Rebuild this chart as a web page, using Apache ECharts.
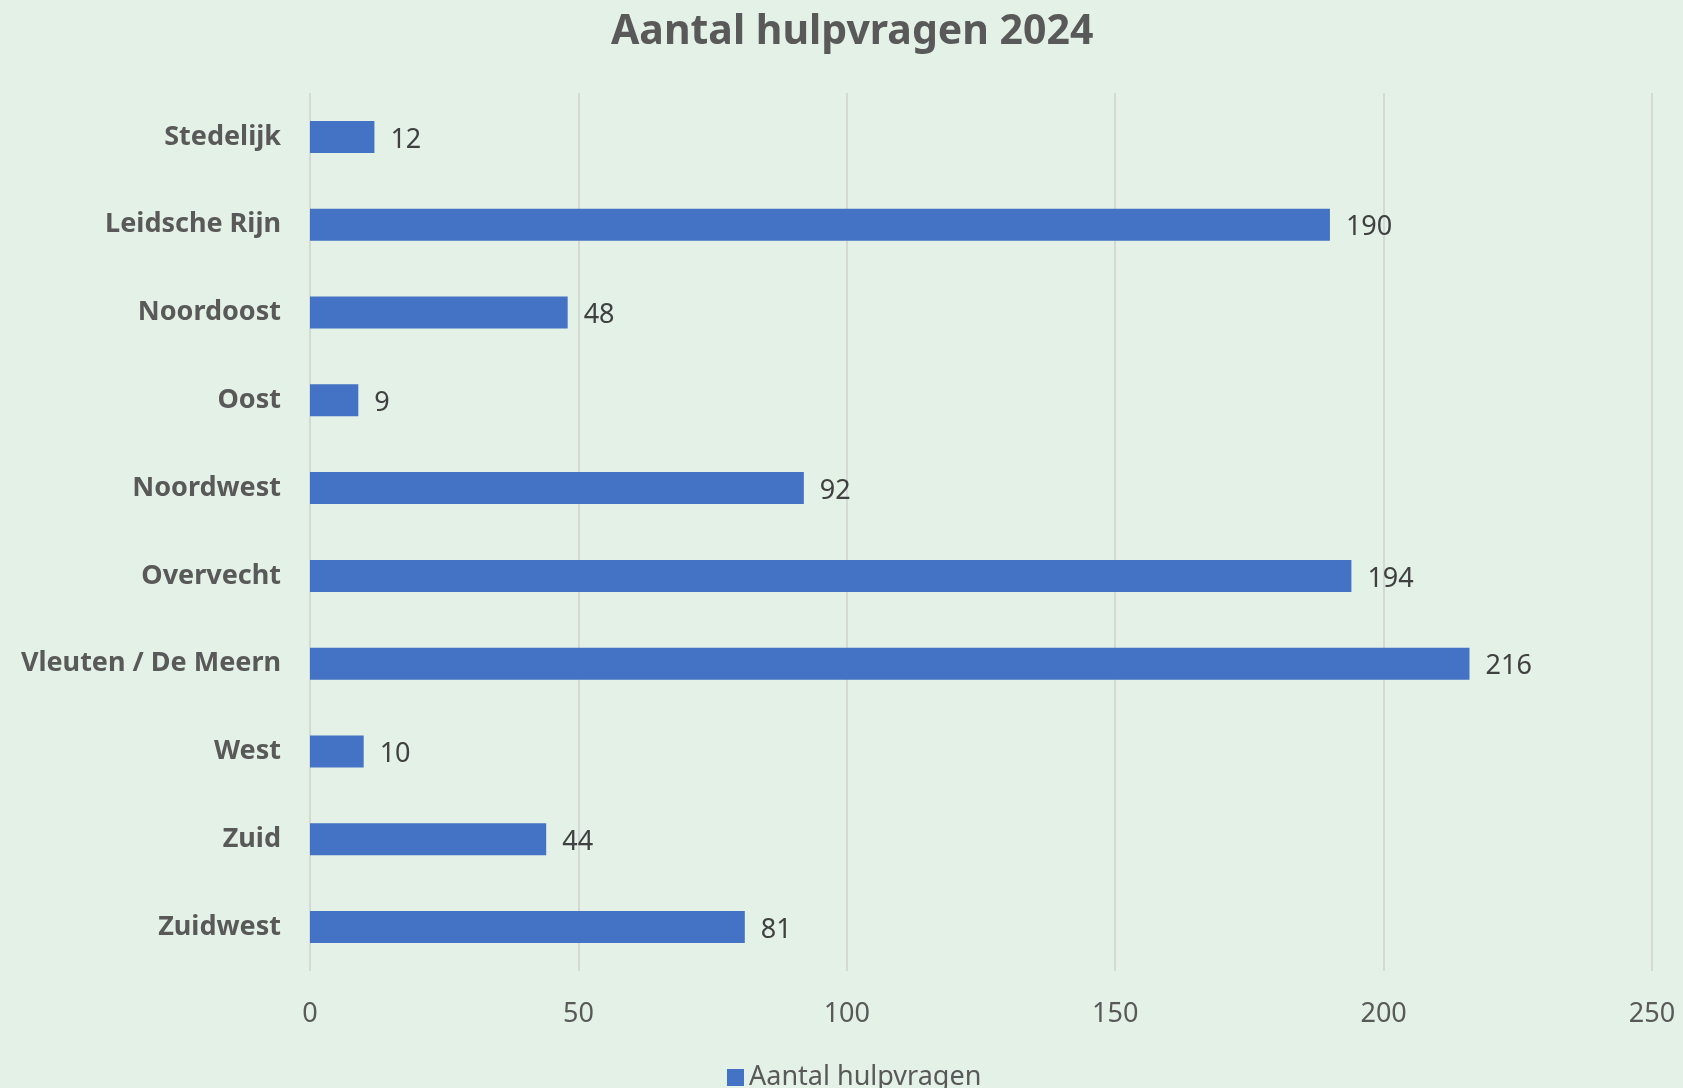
<!DOCTYPE html>
<html>
<head>
<meta charset="utf-8">
<script src="https://cdn.jsdelivr.net/npm/echarts@6/dist/echarts.min.js"></script>
<style>
html,body{margin:0;padding:0;background:#E3F1E6;}
#chart{width:1683px;height:1088px;}
</style>
</head>
<body>
<div id="chart"></div>
<script>
const categories = ["Stedelijk","Leidsche Rijn","Noordoost","Oost","Noordwest","Overvecht","Vleuten / De Meern","West","Zuid","Zuidwest"];
const values = [12,190,48,9,92,194,216,10,44,81];
const seriesName = "Aantal hulpvragen";
const titleText = "Aantal hulpvragen 2024";

const chart = echarts.init(document.getElementById('chart'));
chart.setOption({
  backgroundColor: '#E3F1E6',
  animation: false,
  textStyle: { fontFamily: 'Noto Sans' },
  title: {
    text: titleText, left: 606, top: 7,
    textStyle: { fontFamily: 'Noto Sans', fontWeight: 'bold', fontSize: 41, color: '#595959' }
  },
  legend: {
    data: [seriesName], bottom: -8, left: 722,
    itemWidth: 17, itemHeight: 17, icon: 'rect', itemGap: 8,
    textStyle: { fontFamily: 'Noto Sans', fontSize: 27, color: '#595959' }
  },
  grid: { left: 310, right: 31, top: 93, bottom: 117, containLabel: false },
  xAxis: {
    type: 'value', min: 0, max: 250, interval: 50,
    axisLine: { show: false }, axisTick: { show: false },
    splitLine: { show: true, lineStyle: { color: '#D4D9D6', width: 2 } },
    axisLabel: { fontFamily: 'Noto Sans', fontSize: 27, color: '#595959', margin: 30 }
  },
  yAxis: {
    type: 'category', data: categories, inverse: true,
    axisLine: { show: false }, axisTick: { show: false },
    axisLabel: { fontFamily: 'Noto Sans', fontWeight: 'bold', fontSize: 27, color: '#595959', margin: 29 }
  },
  series: [{
    name: seriesName, type: 'bar', data: values, barWidth: 32,
    itemStyle: { color: '#4472C4' },
    label: { show: true, position: 'right', distance: 16, fontFamily: 'Noto Sans', fontSize: 27, color: '#404040', offset: [0, 3] }
  }]
});
</script>
</body>
</html>
